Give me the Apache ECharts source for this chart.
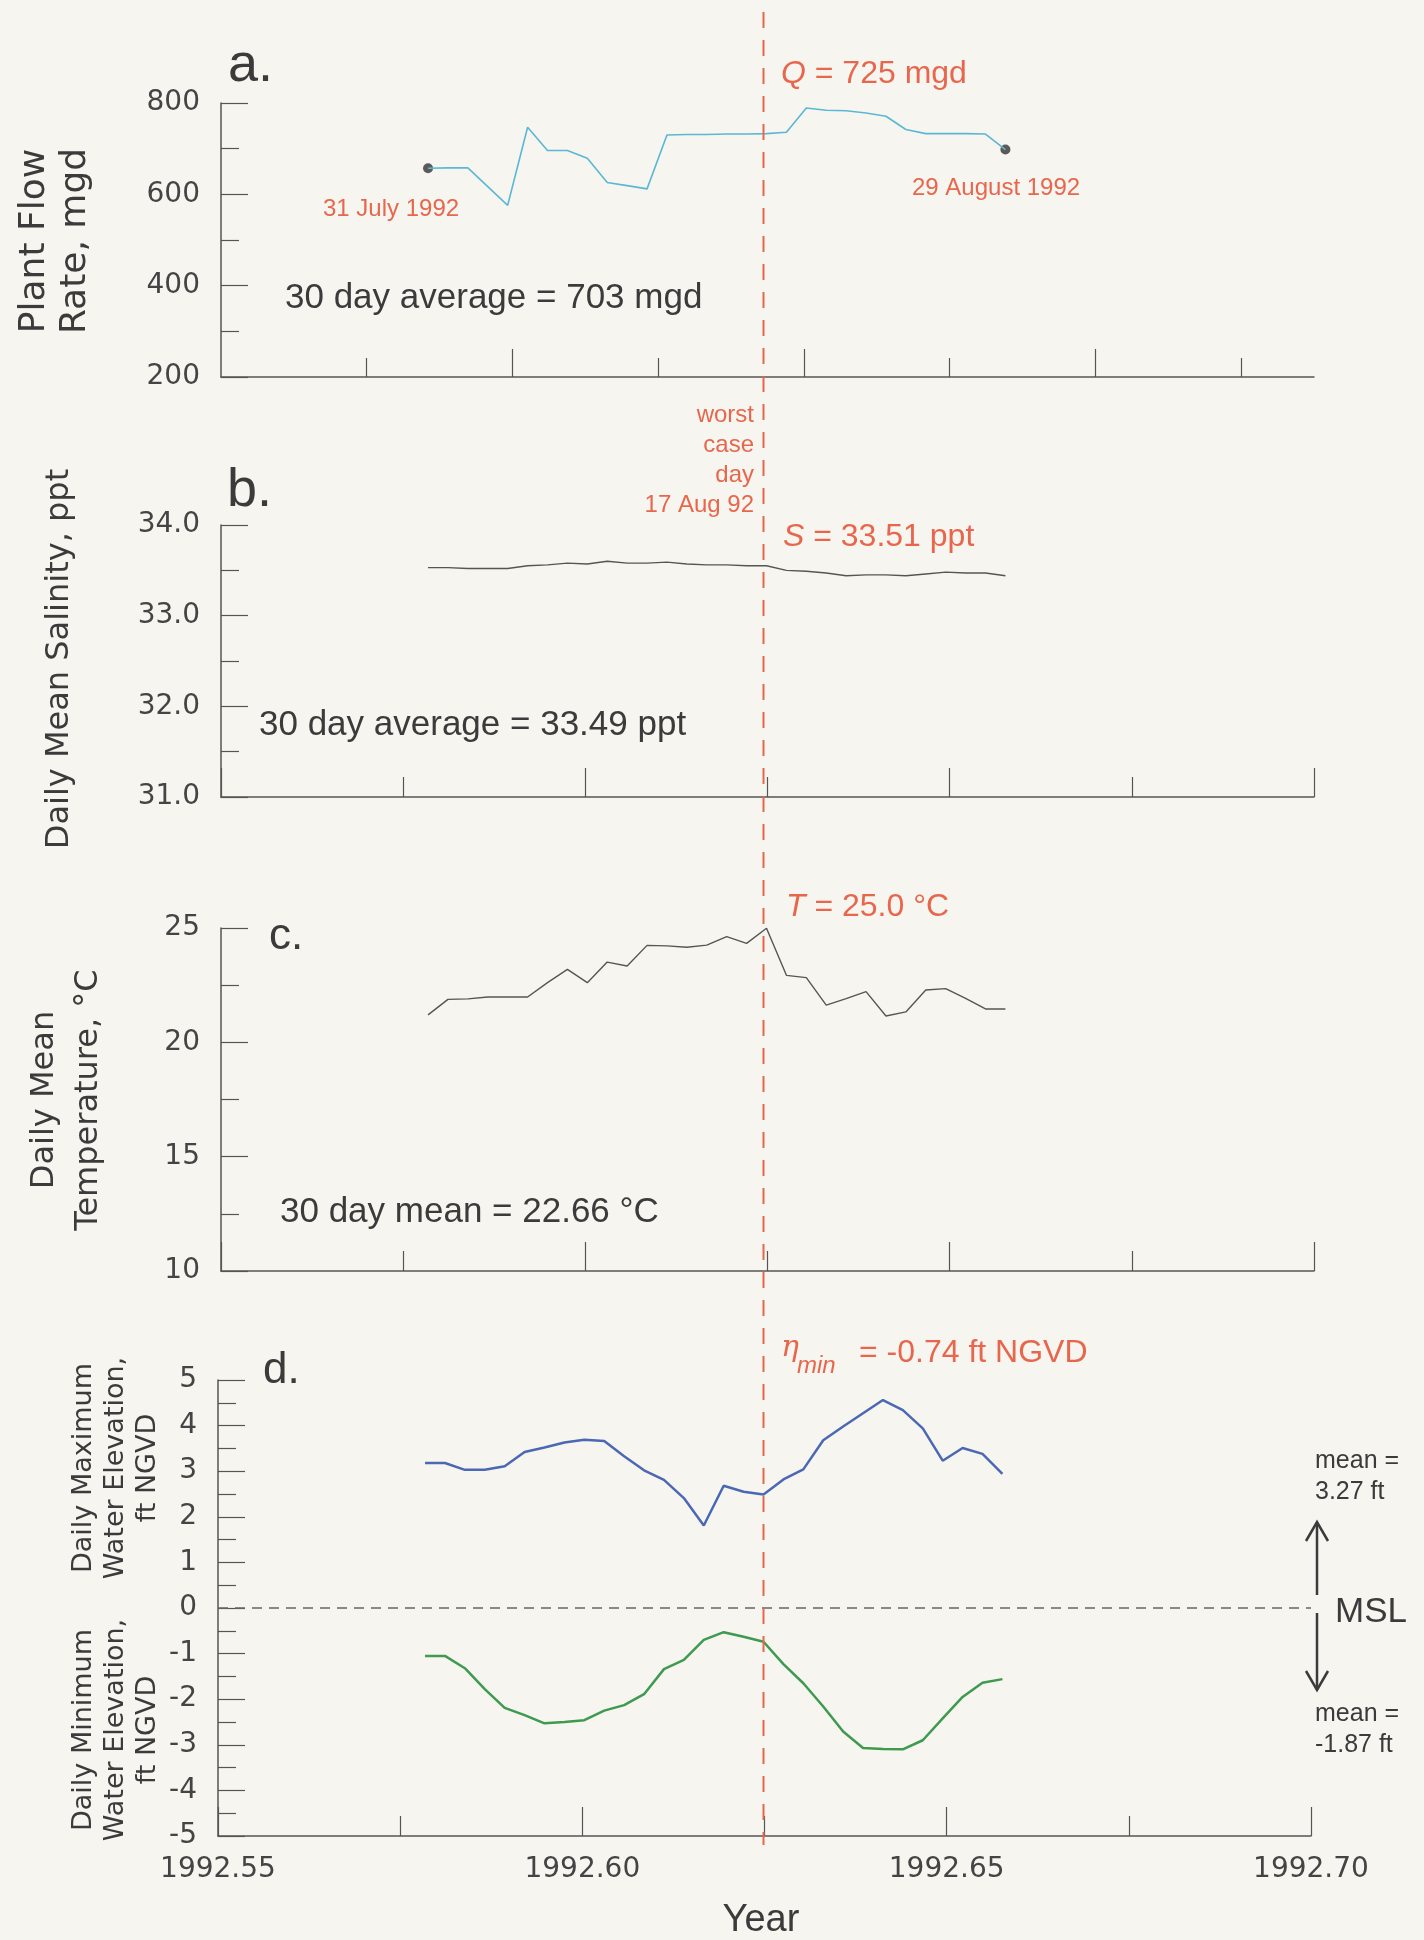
<!DOCTYPE html>
<html>
<head>
<meta charset="utf-8">
<script src="https://cdn.jsdelivr.net/npm/echarts@6/dist/echarts.min.js"></script>
<style>
  html, body { margin: 0; padding: 0; background: #f7f5f0; }
  #chart { width: 1424px; height: 1940px; }
</style>
</head>
<body>
<div id="chart"></div>
<script>
// 31 July 1992 .. 29 August 1992
const dayOfYear = [213, 214, 215, 216, 217, 218, 219, 220, 221, 222,
                   223, 224, 225, 226, 227, 228, 229, 230, 231, 232,
                   233, 234, 235, 236, 237, 238, 239, 240, 241, 242];
const worstDay = 230; // 17 Aug 92

const flowRate = [657, 658, 658, 617, 576, 747, 696, 696, 679, 626,
                  619, 612, 730, 731, 731, 732, 732, 733, 736, 789,
                  784, 783, 778, 771, 742, 733, 733, 733, 732, 698];
const salinity = [33.53, 33.53, 33.52, 33.52, 33.52, 33.55, 33.56, 33.58, 33.57, 33.60,
                  33.58, 33.58, 33.59, 33.57, 33.56, 33.56, 33.55, 33.55, 33.50, 33.49,
                  33.47, 33.44, 33.45, 33.45, 33.44, 33.46, 33.48, 33.47, 33.47, 33.44];
const temperature = [21.20, 21.88, 21.90, 21.98, 21.98, 21.98, 22.61, 23.19, 22.61, 23.51,
                     23.34, 24.24, 24.22, 24.16, 24.25, 24.62, 24.33, 24.99, 22.93, 22.83,
                     21.63, 21.91, 22.22, 21.15, 21.33, 22.29, 22.35, 21.92, 21.46, 21.46];
const maxElev = [3.18, 3.18, 3.03, 3.03, 3.11, 3.42, 3.52, 3.63, 3.69, 3.66,
                 3.33, 3.02, 2.81, 2.41, 1.81, 2.68, 2.55, 2.49, 2.82, 3.04,
                 3.68, 3.98, 4.27, 4.56, 4.34, 3.94, 3.23, 3.51, 3.38, 2.94];
const minElev = [-1.05, -1.05, -1.32, -1.78, -2.19, -2.35, -2.53, -2.50, -2.46, -2.25,
                 -2.13, -1.89, -1.34, -1.14, -0.70, -0.53, -0.63, -0.74, -1.23, -1.65,
                 -2.16, -2.71, -3.07, -3.09, -3.10, -2.90, -2.42, -1.95, -1.64, -1.56];

const flowShortTicks = [1992.57, 1992.61, 1992.65, 1992.69];
const flowLongTicks = [1992.59, 1992.63, 1992.67];

const RED = '#e8674c';
const INK = '#3b3b3b';
const AXIS = '#555';
const SANS = '"Liberation Sans", Arial, sans-serif';
const WIDE = '"DejaVu Sans", sans-serif';

const toYear = d => 1992 + (d - 1.3) / 366;
const pairs = vals => dayOfYear.map((d, i) => [toYear(d), vals[i]]);

const chart = echarts.init(document.getElementById('chart'));

function xAxisFor(gridIndex, withLabels) {
    return {
        type: 'value',
        gridIndex: gridIndex,
        min: 1992.55,
        max: 1992.70,
        interval: 0.05,
        position: 'bottom',
        axisLine: { onZero: false, lineStyle: { color: AXIS, width: 1.5 } },
        axisTick: { inside: true, length: 29, lineStyle: { color: AXIS, width: 1.2 } },
        minorTick: { show: true, splitNumber: 2, length: 20, lineStyle: { color: AXIS, width: 1.2 } },
        splitLine: { show: false },
        axisLabel: {
            show: withLabels,
            margin: 20,
            color: '#444',
            fontFamily: WIDE,
            fontSize: 28,
            formatter: v => v.toFixed(2)
        }
    };
}

function yAxisFor(gridIndex, min, max, interval, digits) {
    return {
        type: 'value',
        gridIndex: gridIndex,
        min: min,
        max: max,
        interval: interval,
        axisLine: { show: true, onZero: false, lineStyle: { color: AXIS, width: 1.5 } },
        axisTick: { inside: true, length: 27, lineStyle: { color: AXIS, width: 1.2 } },
        minorTick: { show: true, splitNumber: 2, length: 18, lineStyle: { color: AXIS, width: 1.2 } },
        splitLine: { show: false },
        axisLabel: {
            margin: 21,
            color: '#444',
            fontFamily: WIDE,
            fontSize: 28,
            formatter: v => v.toFixed(digits)
        }
    };
}

chart.setOption({
    backgroundColor: '#f7f5f0',
    animation: false,
    grid: [
        { left: 221, top: 103, width: 1093, height: 274 },
        { left: 221, top: 525, width: 1093, height: 272 },
        { left: 221, top: 928, width: 1093, height: 343 },
        { left: 218, top: 1380, width: 1093, height: 456 }
    ],
    xAxis: [
        // panel a: ticks every 0.02 yr, alternating lengths
        {
            type: 'value', gridIndex: 0, min: 1992.55, max: 1992.70, position: 'bottom',
            axisLine: { onZero: false, lineStyle: { color: AXIS, width: 1.5 } },
            axisTick: { inside: true, length: 19, customValues: flowShortTicks, lineStyle: { color: AXIS, width: 1.2 } },
            axisLabel: { show: false },
            splitLine: { show: false }
        },
        {
            type: 'value', gridIndex: 0, min: 1992.55, max: 1992.70, position: 'bottom',
            axisLine: { show: false, onZero: false },
            axisTick: { inside: true, length: 28, customValues: flowLongTicks, lineStyle: { color: AXIS, width: 1.2 } },
            axisLabel: { show: false },
            splitLine: { show: false }
        },
        xAxisFor(1, false),
        xAxisFor(2, false),
        xAxisFor(3, true)
    ],
    yAxis: [
        yAxisFor(0, 200, 800, 200, 0),
        yAxisFor(1, 31, 34, 1, 1),
        yAxisFor(2, 10, 25, 5, 0),
        yAxisFor(3, -5, 5, 1, 0)
    ],
    series: [
        {
            type: 'line', xAxisIndex: 0, yAxisIndex: 0,
            data: pairs(flowRate), showSymbol: false,
            lineStyle: { color: '#5bb8d4', width: 1.6 }
        },
        {
            type: 'scatter', xAxisIndex: 0, yAxisIndex: 0,
            data: [pairs(flowRate)[0], pairs(flowRate)[flowRate.length - 1]],
            symbolSize: 10, itemStyle: { color: '#333' }
        },
        {
            type: 'line', xAxisIndex: 2, yAxisIndex: 1,
            data: pairs(salinity), showSymbol: false,
            lineStyle: { color: '#555', width: 1.4 }
        },
        {
            type: 'line', xAxisIndex: 3, yAxisIndex: 2,
            data: pairs(temperature), showSymbol: false,
            lineStyle: { color: '#555', width: 1.4 }
        },
        {
            type: 'line', xAxisIndex: 4, yAxisIndex: 3,
            data: pairs(maxElev), showSymbol: false,
            lineStyle: { color: '#4a68b4', width: 2.5 }
        },
        {
            type: 'line', xAxisIndex: 4, yAxisIndex: 3,
            data: pairs(minElev), showSymbol: false,
            lineStyle: { color: '#3e9a4e', width: 2.5 },
            markLine: {
                silent: true, symbol: 'none', label: { show: false },
                lineStyle: { color: '#666', type: [10, 7], width: 1.5 },
                data: [{ yAxis: 0 }]
            }
        }
    ]
});

// dashed "worst case day" marker through all panels
const worstX = chart.convertToPixel({ xAxisIndex: 4 }, toYear(worstDay));

function label(x, y, text, size, extra) {
    return {
        type: 'text', x: x, y: y, silent: true,
        style: Object.assign({
            text: text, fill: INK,
            font: size + 'px ' + SANS,
            textAlign: 'left', textVerticalAlign: 'middle'
        }, extra || {})
    };
}

function vlabel(x, y, text, size, lh) {
    return {
        type: 'text', x: x, y: y, rotation: Math.PI / 2, silent: true,
        style: {
            text: text, fill: INK, font: size + 'px ' + WIDE,
            lineHeight: lh, textAlign: 'center', textVerticalAlign: 'middle'
        }
    };
}

const graphics = [
    {
        type: 'line', silent: true, z: 10,
        shape: { x1: worstX, y1: 12, x2: worstX, y2: 1845 },
        style: { stroke: RED, lineWidth: 2, lineDash: [16, 12] }
    },
    // panel letters
    label(228, 66, 'a.', 54),
    label(227, 491, 'b.', 54),
    label(269, 937, 'c.', 44),
    label(263, 1371, 'd.', 44),
    // panel a
    {
        type: 'text', x: 781, y: 74, silent: true,
        style: {
            text: '{i|Q}{n| = 725 mgd}', textVerticalAlign: 'middle',
            rich: {
                i: { fill: RED, font: 'italic 32px ' + SANS },
                n: { fill: RED, font: '32px ' + SANS }
            }
        }
    },
    label(323, 209, '31 July 1992', 24, { fill: RED }),
    label(912, 188, '29 August 1992', 24, { fill: RED }),
    label(285, 298, '30 day average = 703 mgd', 35),
    label(754, 460, 'worst\ncase\nday\n17 Aug 92', 24, { fill: RED, textAlign: 'right', lineHeight: 30 }),
    // panel b
    {
        type: 'text', x: 783, y: 537, silent: true,
        style: {
            text: '{i|S}{n| = 33.51 ppt}', textVerticalAlign: 'middle',
            rich: {
                i: { fill: RED, font: 'italic 32px ' + SANS },
                n: { fill: RED, font: '32px ' + SANS }
            }
        }
    },
    label(259, 725, '30 day average = 33.49 ppt', 35),
    // panel c
    {
        type: 'text', x: 786, y: 907, silent: true,
        style: {
            text: '{i|T}{n| = 25.0 °C}', textVerticalAlign: 'middle',
            rich: {
                i: { fill: RED, font: 'italic 32px ' + SANS },
                n: { fill: RED, font: '32px ' + SANS }
            }
        }
    },
    label(280, 1212, '30 day mean = 22.66 °C', 35),
    // panel d
    label(781, 1348, 'η', 30, { fill: RED, font: 'italic 30px "DejaVu Serif", serif' }),
    label(797, 1366, 'min', 24, { fill: RED, font: 'italic 24px ' + SANS }),
    label(859, 1353, '= -0.74 ft NGVD', 32, { fill: RED }),
    label(1315, 1477, 'mean =\n3.27 ft', 25, { lineHeight: 31 }),
    label(1335, 1612, 'MSL', 35),
    label(1315, 1730, 'mean =\n-1.87 ft', 25, { lineHeight: 31 }),
    {
        type: 'polyline', silent: true,
        shape: { points: [[1317, 1595], [1317, 1522]] },
        style: { stroke: INK, lineWidth: 2.5, fill: null }
    },
    {
        type: 'polyline', silent: true,
        shape: { points: [[1306, 1541], [1317, 1522], [1328, 1541]] },
        style: { stroke: INK, lineWidth: 2.5, fill: null }
    },
    {
        type: 'polyline', silent: true,
        shape: { points: [[1317, 1613], [1317, 1690]] },
        style: { stroke: INK, lineWidth: 2.5, fill: null }
    },
    {
        type: 'polyline', silent: true,
        shape: { points: [[1306, 1671], [1317, 1690], [1328, 1671]] },
        style: { stroke: INK, lineWidth: 2.5, fill: null }
    },
    // axis titles
    vlabel(55, 241, 'Plant Flow\nRate, mgd', 36, 41),
    vlabel(60, 659, 'Daily Mean Salinity, ppt', 32, 40),
    vlabel(67, 1100, 'Daily Mean\nTemperature, °C', 32, 44),
    vlabel(116, 1468, 'Daily Maximum\nWater Elevation,\nft NGVD', 27, 32),
    vlabel(116, 1730, 'Daily Minimum\nWater Elevation,\nft NGVD', 27, 32),
    label(761, 1921, 'Year', 38, { textAlign: 'center' })
];

chart.setOption({ graphic: graphics });
</script>
</body>
</html>
